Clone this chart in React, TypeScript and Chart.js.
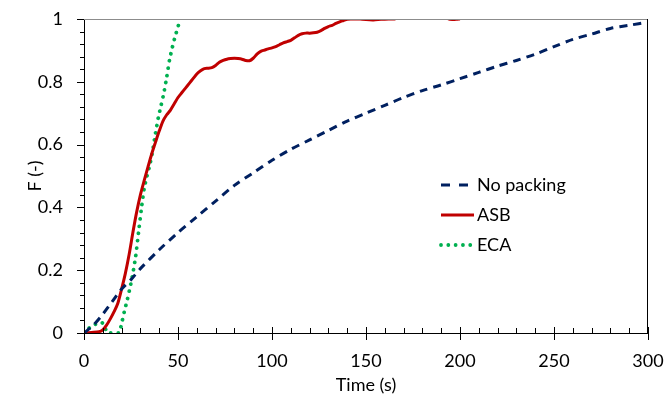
import React, { useEffect, useRef } from 'react';
import { Chart, registerables } from 'chart.js';

Chart.register(...registerables);

// ---- data ----
const seriesNames = ['No packing', 'ASB', 'ECA'];

const noPackT = [0, 5, 10, 15, 20, 25, 30, 40, 50, 60, 70, 80, 90, 100, 110, 120, 130, 140, 150, 160, 170, 180, 190, 200, 210, 220, 230, 240, 250, 260, 270, 280, 290, 300];
const noPackF = [0, 0.025, 0.06, 0.1, 0.14, 0.17, 0.205, 0.265, 0.32, 0.37, 0.42, 0.47, 0.51, 0.55, 0.585, 0.615, 0.645, 0.675, 0.7, 0.725, 0.75, 0.772, 0.79, 0.81, 0.83, 0.85, 0.868, 0.888, 0.912, 0.935, 0.952, 0.97, 0.98, 0.99];

const asbT = [0, 4, 8, 10, 12, 14, 16, 18, 20, 22, 24, 26, 28, 30, 32, 34, 36, 38, 40, 42, 44, 46, 48, 50, 52, 54, 56, 58, 60, 62, 64, 66, 68, 70, 72, 74, 76, 78, 80, 82, 84, 86, 88, 90, 92, 94, 96, 98, 100, 102, 104, 106, 108, 110, 112, 114, 116, 118, 120, 122, 124, 126, 128, 130, 132, 134, 136, 138, 140, 142, 146, 150, 154, 158, 162, 166, 170, 180, 190, 194, 198, 200];
const asbF = [0, 0.002, 0.004, 0.01, 0.025, 0.045, 0.068, 0.095, 0.14, 0.19, 0.25, 0.32, 0.385, 0.44, 0.485, 0.528, 0.57, 0.607, 0.643, 0.675, 0.695, 0.71, 0.73, 0.75, 0.765, 0.78, 0.795, 0.81, 0.825, 0.835, 0.842, 0.843, 0.845, 0.852, 0.862, 0.868, 0.872, 0.874, 0.875, 0.874, 0.872, 0.868, 0.867, 0.875, 0.888, 0.897, 0.901, 0.905, 0.908, 0.912, 0.918, 0.924, 0.928, 0.932, 0.94, 0.948, 0.953, 0.955, 0.955, 0.956, 0.958, 0.963, 0.97, 0.976, 0.98, 0.986, 0.991, 0.995, 0.999, 1.0, 1.001, 0.998, 0.997, 0.999, 1.0, 1.002, 1.03, 1.03, 1.03, 1.0, 0.999, 1.0];

const ecaT = [0, 2, 4, 6, 8, 9.5, 10.5, 11.5, 12.5, 18.5, 20, 21.5, 23, 24.5, 26, 27.5, 29, 30.5, 32, 33.5, 35, 36.5, 38, 39.5, 41, 42.5, 44, 45.5, 47, 48.5, 50, 51];
const ecaF = [0, 0.012, 0.022, 0.028, 0.032, 0.033, 0.028, 0.012, 0, 0, 0.03, 0.07, 0.105, 0.145, 0.19, 0.245, 0.32, 0.395, 0.46, 0.5, 0.535, 0.58, 0.635, 0.685, 0.725, 0.765, 0.815, 0.87, 0.91, 0.945, 0.975, 1.0];

const xTicks = [0, 50, 100, 150, 200, 250, 300];
const yTicks = [0, 0.2, 0.4, 0.6, 0.8, 1];
const xMinorStep = 10;
const yMinorStep = 0.04;

const FONT = 'Lato, "Liberation Sans", sans-serif';
const FS = 18;

const toPts = (xs: number[], ys: number[]) => xs.map((x, i) => ({ x, y: ys[i] }));
const fmt = (v: any) => String(+Number(v).toFixed(2));

const decorPlugin = {
  id: 'decor',
  afterDraw(chart: any) {
    const { ctx, chartArea } = chart;
    const { left, right, top, bottom } = chartArea;
    const xs = chart.scales.x;
    const ys = chart.scales.y;
    ctx.save();
    ctx.strokeStyle = '#8c8c8c';
    ctx.lineWidth = 1;
    ctx.beginPath();
    ctx.moveTo(left, Math.round(top) + 0.5);
    ctx.lineTo(right, Math.round(top) + 0.5);
    ctx.stroke();
    ctx.strokeStyle = '#000';
    ctx.beginPath();
    ctx.moveTo(Math.round(right) - 0.5, top);
    ctx.lineTo(Math.round(right) - 0.5, bottom);
    ctx.stroke();
    for (let i = 0; i <= Math.round(1 / yMinorStep); i++) {
      const v = i * yMinorStep;
      const major = i % 5 === 0;
      const p = Math.round(ys.getPixelForValue(v)) + 0.5;
      ctx.beginPath();
      ctx.moveTo(left - (major ? 7 : 4), p);
      ctx.lineTo(left, p);
      ctx.stroke();
    }
    for (let v = 0; v <= 300; v += xMinorStep) {
      const major = v % 50 === 0;
      const p = Math.round(xs.getPixelForValue(v)) + 0.5;
      ctx.beginPath();
      if (major) {
        ctx.moveTo(p, bottom - 6);
        ctx.lineTo(p, bottom + 7);
      } else {
        ctx.moveTo(p, bottom - 5);
        ctx.lineTo(p, bottom);
      }
      ctx.stroke();
    }
    const lx0 = left + 357;
    const lx1 = left + 390;
    const ly0 = top + 166;
    chart.data.datasets.forEach((ds: any, i: number) => {
      const y = ly0 + i * 30;
      ctx.save();
      ctx.strokeStyle = ds.borderColor;
      ctx.lineWidth = ds.borderWidth;
      ctx.lineCap = ds.borderCapStyle || 'butt';
      ctx.setLineDash(ds.legendDash || []);
      ctx.beginPath();
      ctx.moveTo(lx0, y);
      ctx.lineTo(lx1, y);
      ctx.stroke();
      ctx.restore();
      ctx.fillStyle = '#000';
      ctx.font = `${FS}px ${FONT}`;
      ctx.textBaseline = 'middle';
      ctx.textAlign = 'left';
      ctx.fillText(ds.label, lx1 + 3, y);
    });
    ctx.restore();
  },
};

export default function App() {
  const ref = useRef<HTMLCanvasElement | null>(null);
  useEffect(() => {
    if (!ref.current) return;
    const chart = new Chart(ref.current, {
      type: 'line',
      data: {
        datasets: [
          {
            label: seriesNames[0],
            data: toPts(noPackT, noPackF),
            borderColor: '#002060',
            borderWidth: 3,
            borderDash: [8, 6],
            legendDash: [9, 9],
            pointRadius: 0,
            tension: 0.3,
            fill: false,
          } as any,
          {
            label: seriesNames[1],
            data: toPts(asbT, asbF),
            borderColor: '#c00000',
            borderWidth: 3,
            pointRadius: 0,
            tension: 0.25,
            fill: false,
          } as any,
          {
            label: seriesNames[2],
            data: toPts(ecaT, ecaF),
            borderColor: '#00b050',
            borderWidth: 3.8,
            borderDash: [0.01, 7.3],
            legendDash: [0.01, 7.3],
            borderCapStyle: 'round',
            pointRadius: 0,
            tension: 0.2,
            fill: false,
          } as any,
        ],
      },
      options: {
        animation: false,
        responsive: false,
        events: [],
        layout: { padding: { left: 0, right: 18, top: 19, bottom: 0 } },
        plugins: { legend: { display: false }, tooltip: { enabled: false } },
        scales: {
          x: {
            type: 'linear',
            min: 0,
            max: 300,
            afterBuildTicks: (s: any) => { s.ticks = xTicks.map((v) => ({ value: v })); },
            afterFit: (s: any) => { s.height = 64; s.paddingLeft = 0; s.paddingRight = 0; },
            ticks: { color: '#000', font: { family: FONT, size: FS }, padding: 17, maxRotation: 0, callback: fmt },
            grid: { display: true, drawOnChartArea: false, drawTicks: false },
            border: { color: '#000', width: 1 },
            title: { display: true, text: 'Time (s)', color: '#000', font: { family: FONT, size: FS }, padding: 1 },
          },
          y: {
            type: 'linear',
            min: 0,
            max: 1,
            afterBuildTicks: (s: any) => { s.ticks = yTicks.map((v) => ({ value: v })); },
            afterFit: (s: any) => { s.width = 84; s.paddingTop = 0; s.paddingBottom = 0; },
            ticks: { color: '#000', font: { family: FONT, size: FS }, padding: 21, callback: fmt },
            grid: { display: true, drawOnChartArea: false, drawTicks: false },
            border: { color: '#000', width: 1 },
            title: { display: true, text: 'F (-)', color: '#000', font: { family: FONT, size: FS }, padding: 24 },
          },
        },
      },
      plugins: [decorPlugin],
    });
    return () => chart.destroy();
  }, []);
  return (
    <div style={{ position: 'absolute', left: 0, top: 0, width: 666, height: 397, background: '#fff' }}>
      <canvas ref={ref} width={666} height={397} style={{ display: 'block' }} />
    </div>
  );
}
